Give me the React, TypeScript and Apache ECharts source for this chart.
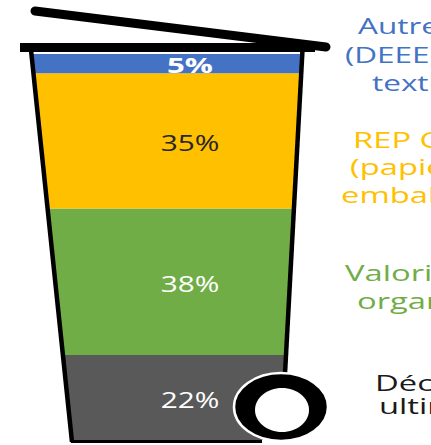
import React, { useEffect, useRef } from 'react';
import * as echarts from 'echarts';

// ---- data (bottom to top of the bin) ----
const segmentNames = ['Déchets ultimes', 'Valorisation organique', 'REP CITEO (papiers, emballages)', 'Autres (DEEE, textiles)'];
const segmentShares = [22, 38, 35, 5];
const legendLines = [
  ['Déchets', 'ultimes'],
  ['Valorisation', 'organique'],
  ['REP CITEO', '(papiers,', 'emballages)'],
  ['Autres', '(DEEE,', 'textiles)'],
];

// ---- styles ----
const segmentColors = ['#595959', '#70AD47', '#FFC000', '#4472C4'];
const pctColors = ['#ffffff', '#ffffff', '#262626', '#ffffff'];
const pctWeights = ['normal', 'normal', 'normal', 'bold'];
const pctOffsets = [2.5, 2.5, 2.5, 1];
const legendColors = ['#1a1a1a', '#70AD47', '#FFC000', '#4472C4'];
const legendPos = [
  [[375, 383], [379, 405.5]],
  [[345, 272.5], [357, 300.5]],
  [[353, 139.5], [350, 166.5], [341, 194.5]],
  [[358, 25.5], [345, 54.5], [372, 82.5]],
];
const legendScale = [1.56, 1.56, 1.56, 1.5];

const FONT = '"Open Sans", "DejaVu Sans", sans-serif';

export default function App() {
  const ref = useRef<HTMLDivElement>(null);
  useEffect(() => {
    if (!ref.current) return;
    const chart = echarts.init(ref.current, undefined, { renderer: 'svg' });
    let acc = 0;
    const stackData = segmentShares.map((v, i) => {
      const s = acc;
      acc += v;
      return [s, acc, v, i];
    });
    const leftEdge = (y: number) => 31 + (y - 52) * 0.104;
    const rightEdge = (y: number) => 302.5 - (y - 55) * 0.054;

    const graphics: any[] = [
      { type: 'line', z: 100, shape: { x1: 35, y1: 11, x2: 326, y2: 47 }, style: { stroke: '#000', lineWidth: 9, lineCap: 'round' } },
      { type: 'rect', z: 100, shape: { x: 20, y: 43, width: 295, height: 9 }, style: { fill: '#000' } },
      { type: 'line', z: 100, shape: { x1: 31, y1: 50, x2: 72, y2: 442 }, style: { stroke: '#000', lineWidth: 4.5 } },
      { type: 'line', z: 100, shape: { x1: 302.5, y1: 50, x2: 284, y2: 392 }, style: { stroke: '#000', lineWidth: 4.5 } },
      { type: 'line', z: 100, shape: { x1: 71, y1: 441.5, x2: 262, y2: 441.5 }, style: { stroke: '#000', lineWidth: 3 } },
      { type: 'ellipse', z: 101, shape: { cx: 281, cy: 407, rx: 47, ry: 34 }, style: { fill: '#000', stroke: '#fff', lineWidth: 2.5 } },
      { type: 'ellipse', z: 102, shape: { cx: 282, cy: 410, rx: 27, ry: 22 }, style: { fill: '#fff' } },
    ];
    legendLines.forEach((lines, i) => {
      lines.forEach((t, j) => {
        graphics.push({
          type: 'text', z: 100,
          x: legendPos[i][j][0], y: legendPos[i][j][1], scaleX: legendScale[i],
          style: { text: t, fill: legendColors[i], fontSize: 21, fontFamily: FONT, align: 'left', verticalAlign: 'middle' },
        });
      });
    });

    chart.setOption({
      animation: false,
      grid: { left: 0, right: 0, top: 54, bottom: 5 },
      xAxis: { type: 'value', min: 0, max: 431, show: false },
      yAxis: { type: 'value', min: 0, max: 100, show: false },
      series: [
        {
          type: 'custom',
          name: 'Composition',
          data: stackData,
          encode: { y: [0, 1] },
          renderItem: (params: any, api: any) => {
            const start = api.value(0) as number;
            const end = api.value(1) as number;
            const v = api.value(2) as number;
            const i = api.value(3) as number;
            const yTop = api.coord([0, end])[1];
            const yBot = api.coord([0, start])[1];
            const px = (xv: number) => api.coord([xv, 0])[0];
            return {
              type: 'group',
              children: [
                {
                  type: 'polygon',
                  shape: {
                    points: [
                      [px(leftEdge(yTop)), yTop],
                      [px(rightEdge(yTop)), yTop],
                      [px(rightEdge(yBot)), yBot],
                      [px(leftEdge(yBot)), yBot],
                    ],
                  },
                  style: { fill: segmentColors[i] },
                },
                {
                  type: 'text',
                  x: px(190),
                  y: (yTop + yBot) / 2 + pctOffsets[i],
                  scaleX: 1.42,
                  style: {
                    text: v + '%',
                    fill: pctColors[i],
                    fontSize: i === 3 ? 22 : 21,
                    fontWeight: pctWeights[i],
                    fontFamily: FONT,
                    align: 'center',
                    verticalAlign: 'middle',
                  },
                },
              ],
            };
          },
        },
      ],
      graphic: graphics,
    });
    return () => chart.dispose();
  }, []);
  return <div ref={ref} style={{ position: 'absolute', left: 0, top: 0, width: 431, height: 445 }} />;
}
